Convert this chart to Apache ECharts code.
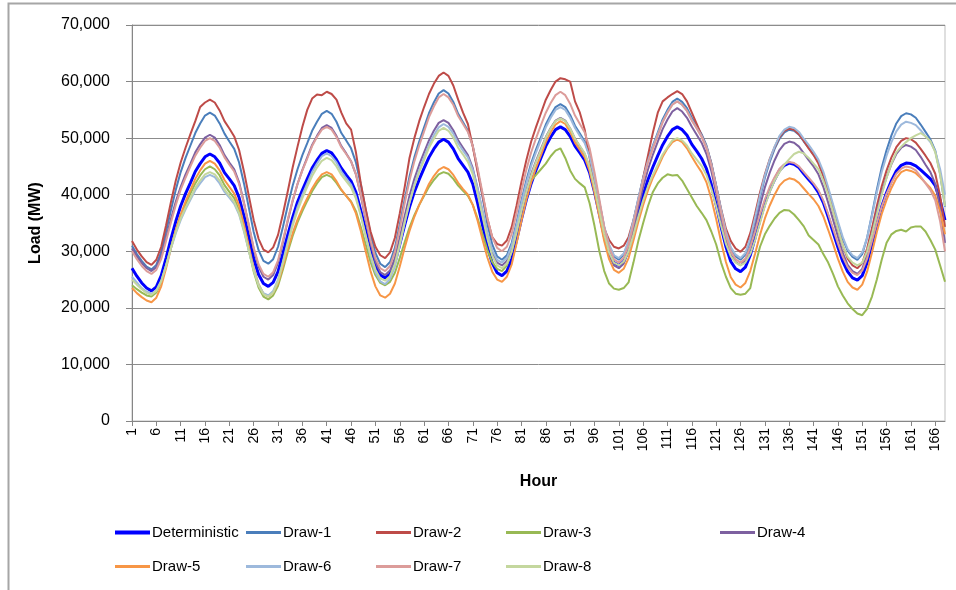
<!DOCTYPE html>
<html>
<head>
<meta charset="utf-8">
<script src="https://cdn.jsdelivr.net/npm/echarts@6/dist/echarts.min.js"></script>
<style>
html,body{margin:0;padding:0;background:#fff;}
#chart{width:956px;height:590px;}
</style>
</head>
<body>
<div id="chart"></div>
<script>
const hours = [1,2,3,4,5,6,7,8,9,10,11,12,13,14,15,16,17,18,19,20,21,22,23,24,25,26,27,28,29,30,31,32,33,34,35,36,37,38,39,40,41,42,43,44,45,46,47,48,49,50,51,52,53,54,55,56,57,58,59,60,61,62,63,64,65,66,67,68,69,70,71,72,73,74,75,76,77,78,79,80,81,82,83,84,85,86,87,88,89,90,91,92,93,94,95,96,97,98,99,100,101,102,103,104,105,106,107,108,109,110,111,112,113,114,115,116,117,118,119,120,121,122,123,124,125,126,127,128,129,130,131,132,133,134,135,136,137,138,139,140,141,142,143,144,145,146,147,148,149,150,151,152,153,154,155,156,157,158,159,160,161,162,163,164,165,166,167,168];

const seriesNames = ["Deterministic","Draw-1","Draw-2","Draw-3","Draw-4","Draw-5","Draw-6","Draw-7","Draw-8"];

const deterministic = [27000,25600,24400,23500,23000,
23700,25700,28800,32200,35300,38000,40200,42100,44100,45500,46700,47200,
46700,45600,43900,42800,41600,39500,36200,32500,28700,25900,24300,23800,
24500,26400,29600,32900,36000,38700,40800,42800,44700,46100,47300,47800,
47400,46200,44700,43500,42400,40400,37200,33600,30000,27300,25800,25300,
26000,28000,31200,34600,37800,40500,42700,44700,46600,48100,49300,49800,
49300,48100,46400,45200,44000,41900,38500,34600,30800,27900,26200,25700,
26500,28600,32000,35700,39100,42000,44400,46500,48600,50200,51500,52000,
51500,50300,48600,47400,46100,43900,40500,36600,32700,29700,28000,27500,
28200,30200,33400,36800,40000,42700,44900,46900,48800,50300,51500,52000,
51500,50500,48900,47700,46400,44600,41800,38200,34300,30800,28200,26900,26400,
27200,29300,32400,35600,38500,40800,42700,44300,45200,45600,
45400,44800,43700,42700,41700,40400,38600,36100,33400,30700,28200,26400,25300,24900,
25700,28000,31300,34800,37900,40400,42500,44200,45200,45600,
45500,45100,44400,43600,42800,41600,39000,35500];

const draw1 = [31000,29500,28300,27300,26800,
27600,29900,33500,37300,40900,44000,46500,48700,50900,52600,54000,54500,
54000,52600,50800,49400,48100,45700,42000,37700,33400,30200,28300,27800,
28600,30800,34300,38100,41600,44500,47000,49100,51300,52900,54300,54800,
54300,52900,50900,49600,48200,45700,41800,37400,33000,29700,27800,27200,
28100,30600,34700,39100,43200,46600,49400,51900,54400,56300,57900,58500,
57900,56400,54300,52800,51300,48600,44400,39600,34800,31200,29100,28500,
29300,31500,35100,39000,42500,45600,48000,50200,52400,54100,55500,56000,
55500,54100,52200,50800,49400,46900,43100,38700,34300,31000,29100,28500,
29400,31600,35300,39300,43000,46200,48700,51000,53300,55000,56400,57000,
56400,55300,53600,52200,50700,48700,45600,41600,37300,33400,30500,29100,28500,
29400,32000,35600,39500,43000,45800,48100,49900,51000,51500,
51300,50600,49400,48300,47100,45800,43700,40900,37900,34900,32200,30100,29000,28500,
29500,32400,36500,40900,44800,47900,50500,52600,53900,54400,
54200,53600,52400,51100,49800,47800,43700,37900];

const draw2 = [31800,30300,29100,28100,27600,
28500,30800,34600,38700,42500,45700,48300,50700,53000,55500,56300,56800,
56300,54900,53000,51700,50300,47900,44100,39800,35500,32200,30300,29800,
30700,32900,36600,40600,44800,48500,52000,55000,57000,57700,57600,58200,
57800,56800,54500,52600,51500,47500,42000,37500,33500,30800,29300,28800,
29800,32400,36700,41300,46500,50000,53000,55500,57800,59600,61000,61600,
61000,59300,56800,54500,52500,48500,44000,40000,35800,32500,31300,31000,
31900,34300,38100,42300,46100,49400,52000,54400,56800,58500,60000,60600,
60400,60000,56500,54500,51500,46500,41500,37500,34000,32000,30800,30500,
31000,32500,35500,39000,43000,47000,51000,54500,56500,57200,57800,58300,
57800,56500,54500,52500,50500,48500,45500,41500,37500,34000,31800,30500,29900,
30800,33200,36700,40400,43600,46300,48400,50200,51300,51700,
51500,50700,49500,48200,47000,45500,43300,40300,37100,33900,31000,28700,27500,27000,
27900,30500,34100,38000,41500,44300,46600,48400,49500,50000,
49800,49200,48100,46900,45600,43700,39800,34300];

const draw3 = [24000,23300,22700,22200,22000,
22700,24500,27500,30700,33700,36300,38300,40200,42000,43400,44500,45000,
44500,43400,41700,40500,39400,37200,34000,30200,26400,23600,22000,21500,
22200,23900,26800,29900,32700,35100,37100,38900,40600,42000,43100,43500,
43100,42100,40800,39800,38800,37100,34300,31200,28100,25800,24400,24000,
24600,26200,28800,31600,34200,36400,38200,39800,41400,42600,43600,44000,
43700,42800,41600,40700,39800,38200,35800,33000,30200,28100,26900,26500,
27500,30000,33500,37500,41000,42500,43500,44500,45500,46800,47800,48200,
46500,44300,42800,42000,41300,38500,34500,30000,26500,24300,23400,23200,
23500,24500,28000,31800,35000,38000,40500,42000,43000,43600,43400,43500,
42500,41000,39500,38000,36800,35500,33500,31200,28000,25500,23500,22500,22300,
22500,23500,27500,30800,33000,34500,35800,36800,37300,37200,
36500,35500,34400,32800,32000,31200,29500,28000,26000,23800,22200,20800,19800,19000,
18700,19800,22000,25000,28500,31500,33000,33600,33800,33500,
34200,34400,34400,33500,32000,30300,27500,24600];

const draw4 = [30500,29100,27900,27000,26500,
27200,29200,32300,35700,38800,41400,43600,45500,47500,48900,50100,50600,
50100,48800,47000,45700,44500,42200,38600,34500,30400,27300,25500,25000,
25800,28000,31600,35400,38900,41900,44400,46600,48800,50400,51800,52300,
51800,50400,48600,47300,45900,43600,39800,35600,31400,28200,26300,25800,
26600,28800,32400,36200,39800,42800,45300,47500,49600,51300,52700,53200,
52700,51400,49600,48300,47000,44700,41100,37000,32900,29800,28000,27500,
28300,30400,33800,37400,40800,43700,46000,48100,50200,51800,53100,53600,
53100,51700,49900,48500,47200,44800,41100,36800,32600,29400,27500,27000,
27800,30100,33800,37800,41400,44500,47100,49400,51600,53300,54700,55300,
54700,53600,52000,50600,49200,47200,44200,40300,36100,32200,29400,28100,27500,
28400,30800,34300,38000,41300,43900,46100,47900,49000,49400,
49200,48500,47300,46100,45000,43600,41400,38600,35600,32600,29700,27600,26500,26000,
26900,29400,33100,36900,40400,43100,45400,47200,48300,48800,
48500,47900,46700,45300,44000,41900,37600,31500];

const draw5 = [23500,22600,21900,21300,21000,
21800,23800,27000,30500,33800,36500,38800,40800,42800,44300,45500,46000,
45500,44300,42600,41400,40200,38100,34700,30900,27000,24200,22500,22000,
22700,24400,27300,30400,33200,35600,37600,39400,41100,42500,43600,44000,
43600,42400,40900,39800,38700,36700,33600,30000,26500,23800,22200,21800,
22500,24300,27300,30600,33600,36100,38200,40000,41900,43300,44400,44900,
44500,43500,42100,41000,40000,38200,35400,32100,28900,26400,25000,24600,
25500,27700,31400,35400,39100,42200,44800,47000,49300,51000,52400,53000,
52500,51100,49200,47900,46600,44200,40400,36100,31800,28600,26700,26200,
26900,28800,31900,35200,38200,40800,43000,44800,46700,48200,49300,49800,
49300,48200,46700,45300,44000,42200,39300,35700,31700,28100,25400,24100,23600,
24400,26500,29600,32900,35800,38100,40000,41600,42500,42900,
42700,42100,41100,40100,39200,38000,36200,33800,31300,28700,26400,24600,23600,23200,
24100,26400,29800,33400,36600,39100,41200,42900,44000,44400,
44200,43800,43000,42100,41200,39800,37000,33000];

const draw6 = [25500,24500,23500,22900,22500,
23100,24800,27500,30500,33200,35500,37400,39100,40800,42000,43100,43500,
43100,42000,40500,39500,38400,36500,33500,30100,26700,24100,22600,22200,
23000,25000,28200,31700,35000,37800,40000,42000,44000,45500,46800,47300,
46800,45700,44100,42900,41800,39700,36400,32700,29100,26300,24700,24200,
25100,27300,31000,35000,38600,41800,44300,46600,48800,50500,51900,52500,
52000,50800,49100,47800,46600,44400,41000,37100,33100,30200,28500,28000,
28800,31000,34600,38500,42000,45100,47500,49700,51900,53600,55000,55500,
55000,53600,51800,50400,49100,46700,43000,38700,34400,31200,29300,28800,
29600,31900,35500,39300,42900,46000,48500,50700,52900,54600,56000,56500,
55900,54800,53200,51800,50400,48500,45400,41500,37400,33500,30700,29400,28800,
29700,32300,36000,39900,43400,46200,48500,50400,51500,52000,
51800,51100,49900,48800,47600,46200,44100,41300,38300,35300,32500,30400,29300,28800,
29800,32400,36300,40400,44000,46900,49300,51200,52400,52900,
52700,52300,51400,50300,49300,47700,44500,40000];

const draw7 = [30000,28600,27400,26500,26000,
26700,28600,31800,35100,38200,40900,43000,45000,46900,48300,49500,50000,
49500,48300,46600,45300,44100,41900,38500,34600,30600,27700,26000,25500,
26300,28400,31900,35600,39000,41900,44300,46400,48600,50200,51500,52000,
51500,50200,48400,47200,45900,43600,40000,35900,31900,28800,27000,26500,
27400,29900,34000,38400,42500,45900,48700,51200,53700,55600,57200,57800,
57200,55900,53900,52500,51100,48600,44700,40300,35800,32500,30600,30000,
30800,33100,36800,40700,44400,47500,50000,52300,54500,56200,57600,58200,
57600,56100,54000,52500,51000,48200,44000,39200,34300,30700,28600,28000,
28900,31100,34800,38800,42500,45700,48200,50500,52800,54500,55900,56500,
55900,54800,53100,51700,50200,48200,45100,41100,36800,32800,30000,28600,28000,
28700,30700,33500,36500,39200,41400,43100,44600,45400,45800,
45600,45000,44000,43000,42000,40800,39000,36600,34000,31400,29000,27200,26200,25800,
26600,28700,31800,35000,37900,40200,42100,43700,44600,45000,
44800,44300,43200,42000,40800,39000,35300,30000];

const draw8 = [25000,24100,23300,22600,22300,
23000,24700,27500,30600,33400,35800,37700,39400,41200,42500,43600,44000,
43600,42500,40900,39800,38700,36700,33700,30100,26600,24000,22400,22000,
22700,24700,27900,31300,34500,37200,39400,41400,43300,44800,46000,46500,
46100,45000,43500,42400,41300,39300,36300,32800,29400,26800,25200,24800,
25600,27800,31300,35100,38600,41500,44000,46100,48300,49900,51300,51800,
51300,50100,48300,47100,45800,43600,40100,36200,32200,29200,27500,27000,
27800,29900,33400,37100,40500,43400,45800,47900,50100,51700,53000,53500,
53000,51700,49900,48600,47300,44900,41300,37100,33000,29800,28000,27500,
28200,30000,32900,36100,39000,41500,43500,45300,47100,48400,49600,50000,
49600,48700,47300,46200,45100,43500,41000,37900,34500,31300,29100,28000,27500,
28000,29500,32000,35000,38000,40500,42500,44000,45300,46300,
47200,47600,47300,46500,45500,44500,42500,40000,37000,34000,31000,29000,28000,27500,
28000,30000,33000,36500,40000,43000,45500,47500,48500,49300,
50000,50500,50900,50300,49500,47500,43500,38000];

const yTicks = [0,10000,20000,30000,40000,50000,60000,70000];

const seriesData = [deterministic, draw1, draw2, draw3, draw4, draw5, draw6, draw7, draw8];
seriesData.forEach((arr, i) => {
  if (arr.length !== hours.length) throw new Error(seriesNames[i] + ' has ' + arr.length + ' values');
});

const colors = ['#0000FF','#4A7EBB','#BE4B48','#98B954','#7D60A0','#F79646','#9DB9DC','#DC9C9A','#C4D79E'];
const widths = [3,2,2,2,2,2,2,2,2];
const FONT = 'Liberation Sans';

const legendPos = [[115,534],[246,534],[376,534],[506,534],[720,534],[115,568],[246,568],[376,568],[506,568]];

const chart = echarts.init(document.getElementById('chart'), null, {renderer:'canvas'});
chart.setOption({
  animation: false,
  backgroundColor: '#ffffff',
  textStyle: {fontFamily: FONT},
  color: colors,
  graphic: [{
    type: 'rect', silent: true, z: -1,
    shape: {x: 8.5, y: 3.5, width: 1000, height: 700},
    style: {fill: 'none', stroke: '#A6A6A6', lineWidth: 2}
  }],
  grid: {left: 132, right: 11, top: 25, bottom: 169, show: true, borderColor: '#BFBFBF', borderWidth: 1},
  legend: seriesNames.map((n, i) => ({
    data: [{name: n, icon: 'rect'}], left: legendPos[i][0], top: legendPos[i][1] - 9, padding: 0,
    itemWidth: 35, itemHeight: widths[i] + 1, itemGap: 4,
    textStyle: {fontSize: 15, color: '#000', fontFamily: FONT, padding: [0, 0, 0, -3]}
  })),
  xAxis: {
    type: 'category', data: hours, boundaryGap: false,
    name: 'Hour', nameLocation: 'middle', nameGap: 53,
    nameTextStyle: {fontSize: 16, fontWeight: 'bold', color: '#000', fontFamily: FONT},
    axisLine: {lineStyle: {color: '#868686', width: 1}},
    axisTick: {interval: 4, length: 5, lineStyle: {color: '#868686'}},
    axisLabel: {interval: 4, rotate: 90, fontSize: 14, color: '#000', margin: 7, fontFamily: FONT},
    splitLine: {show: false}
  },
  yAxis: {
    type: 'value', min: 0, max: 70000, interval: 10000,
    name: 'Load (MW)', nameLocation: 'middle', nameGap: 88,
    nameTextStyle: {fontSize: 16, fontWeight: 'bold', color: '#000', fontFamily: FONT},
    axisLine: {show: true, lineStyle: {color: '#868686', width: 1}},
    axisTick: {show: true, length: 6, lineStyle: {color: '#868686'}},
    axisLabel: {fontSize: 16, color: '#000', margin: 22, fontFamily: FONT,
      formatter: v => yTicks.includes(v) ? v.toLocaleString('en-US') : ''},
    splitLine: {lineStyle: {color: '#8C8C8C', width: 1}}
  },
  series: seriesNames.map((n, i) => ({
    name: n, type: 'line', data: seriesData[i],
    symbol: 'none', showSymbol: false, smooth: false,
    lineStyle: {color: colors[i], width: widths[i]},
    itemStyle: {color: colors[i]},
    z: 2
  }))
});
</script>
</body>
</html>
